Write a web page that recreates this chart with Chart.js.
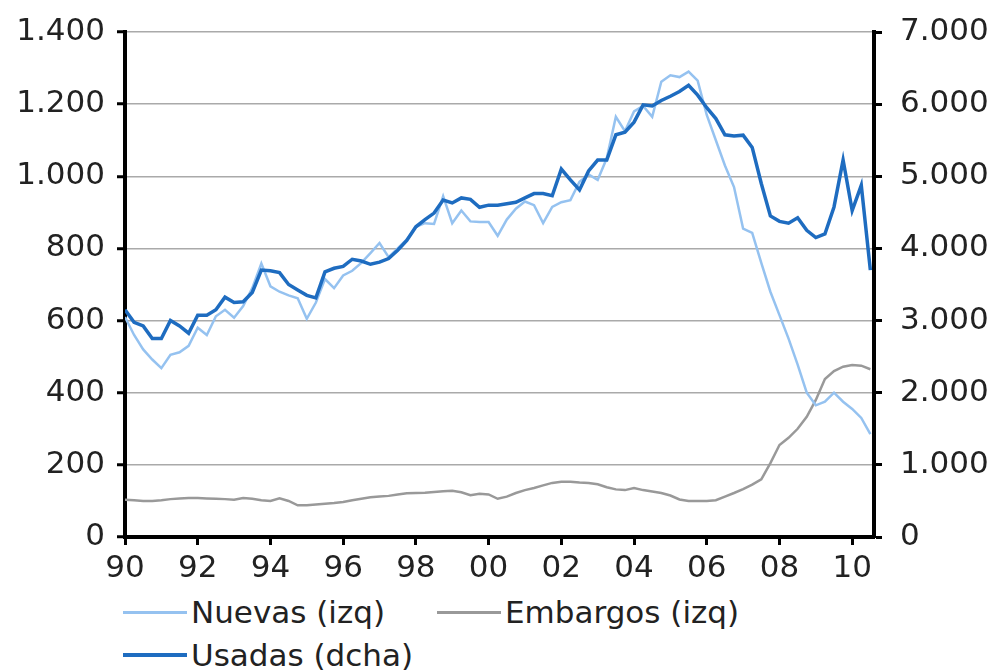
<!DOCTYPE html>
<html>
<head>
<meta charset="utf-8">
<script src="https://cdn.jsdelivr.net/npm/chart.js@4.4.1/dist/chart.umd.min.js"></script>
<style>
  body { margin: 0; background: #fff; }
  #wrap { position: relative; width: 996px; height: 671px; }
  #legend { position: absolute; left: 0; top: 0; font-family: "DejaVu Sans", sans-serif; font-size: 31px; color: #222; }
  .item { position: absolute; display: flex; align-items: center; white-space: nowrap; }
  .swatch { display: inline-block; width: 64px; margin-right: 4px; }
</style>
</head>
<body>
<div id="wrap">
  <canvas id="chart" width="996" height="592"></canvas>
  <div id="legend"></div>
</div>
<script>
// quarterly data, 1990 Q1 .. 2010 Q3
const START_YEAR = 1990;
const STEP = 0.25;

const xTicks = [1990, 1992, 1994, 1996, 1998, 2000, 2002, 2004, 2006, 2008, 2010];

// Nuevas (left axis)
const nuevas = [
  610, 560, 520, 492, 468, 505, 512, 530, 580, 560, 612, 630, 608, 640, 690, 758,
  695, 680, 670, 662, 605, 650, 715, 690, 725, 738, 760, 787, 815, 776, 800, 825,
  860, 870, 868, 945, 870, 905, 875, 873, 873, 835, 880, 910, 930, 920, 870, 915,
  928, 934, 985, 1005, 990, 1050, 1165, 1125, 1180, 1195, 1165, 1262, 1280, 1275, 1290, 1265,
  1170, 1100, 1030, 970, 855, 843, 760, 680, 615, 550, 478, 400, 365, 375, 400, 375,
  355, 330, 285
];

// Embargos (left axis)
const embargos = [
  103, 102, 100, 100, 102, 105, 107, 108, 108, 107, 106, 105, 103, 108, 106, 102,
  100, 107, 100, 88, 88, 90, 92, 94, 97, 102, 106, 110, 112, 114, 118, 121,
  122, 123, 125, 127, 128, 124, 116, 120, 118, 106, 112, 122, 130, 136, 143, 150,
  153, 153, 151, 150, 146, 138, 132, 130, 136, 130, 126, 122, 115, 104, 100, 100,
  100, 102, 112, 122, 133, 145, 160, 205, 255, 275, 300, 333, 380, 438, 460, 472,
  477, 475, 465
];

// Usadas (right axis)
const usadas = [
  3150, 2975, 2925, 2750, 2750, 3000, 2925, 2825, 3075, 3075, 3150, 3325, 3250, 3260, 3390, 3700,
  3690, 3665, 3500, 3425, 3350, 3315, 3675, 3725, 3750, 3850, 3825, 3780, 3810, 3860, 3975, 4110,
  4300, 4400, 4490, 4670, 4630, 4700, 4680, 4570, 4600, 4600, 4620, 4640, 4700, 4760, 4760, 4730,
  5100, 4950, 4810, 5075, 5225, 5225, 5575, 5610, 5750, 5990, 5975, 6050, 6110, 6175, 6260, 6125,
  5950, 5800, 5575, 5560, 5570, 5400, 4900, 4450, 4375, 4350, 4425, 4250, 4150, 4200, 4575, 5225,
  4525, 4875, 3700
];

function toPoints(values) {
  return values.map((v, i) => ({ x: START_YEAR + i * STEP, y: v }));
}

function thousands(v) {
  return String(v).replace(/\B(?=(\d{3})+(?!\d))/g, ".");
}

// fixed axis sizes so the plot area sits where the original one does
function fixWidth(w) {
  return scale => {
    scale.width = w;
    scale.paddingTop = 0;
    scale.paddingBottom = 0;
  };
}

const FONT = { family: "DejaVu Sans", size: 31 };

const series = [
  { label: "Nuevas (izq)", data: nuevas, color: "#95c2f0", width: 2.5, axis: "y", order: 1 },
  { label: "Embargos (izq)", data: embargos, color: "#999999", width: 2.5, axis: "y", order: 2 },
  { label: "Usadas (dcha)", data: usadas, color: "#1e6cc0", width: 3.5, axis: "y1", order: 0 }
];

const chart = new Chart(document.getElementById("chart"), {
  type: "line",
  data: {
    datasets: series.map(s => ({
      label: s.label,
      data: toPoints(s.data),
      borderColor: s.color,
      borderWidth: s.width,
      pointRadius: 0,
      tension: 0,
      yAxisID: s.axis,
      order: s.order
    }))
  },
  options: {
    responsive: false,
    animation: false,
    layout: { padding: { top: 32, right: 0, bottom: 0, left: 0 } },
    plugins: {
      legend: { display: false },
      tooltip: { enabled: false }
    },
    scales: {
      x: {
        type: "linear",
        min: 1990,
        max: 2010.6,
        afterFit: scale => { scale.height = 55; },
        afterBuildTicks: scale => { scale.ticks = xTicks.map(v => ({ value: v })); },
        border: { color: "#000", width: 4 },
        grid: { drawOnChartArea: false, tickLength: 8, tickColor: "#000", tickWidth: 3 },
        ticks: {
          color: "#222",
          font: FONT,
          padding: 5,
          maxRotation: 0,
          autoSkip: false,
          callback: v => String(v % 100).padStart(2, "0")
        }
      },
      y: {
        position: "left",
        min: 0,
        max: 1400,
        afterFit: fixWidth(125),
        border: { color: "#000", width: 4 },
        grid: {
          color: "#aaaaaa",
          lineWidth: 1.5,
          borderDash: [10, 6],
          tickLength: 8,
          tickColor: "#000",
          tickWidth: 3,
          tickBorderDash: []
        },
        ticks: { stepSize: 200, color: "#222", font: FONT, padding: 12, callback: v => thousands(v) }
      },
      y1: {
        position: "right",
        min: 0,
        max: 7000,
        afterFit: fixWidth(122),
        border: { color: "#000", width: 4 },
        grid: { drawOnChartArea: false, tickLength: 8, tickColor: "#000", tickWidth: 3 },
        ticks: { stepSize: 1000, color: "#222", font: FONT, padding: 18, callback: v => thousands(v) }
      }
    }
  }
});

// legend below the chart, built from the datasets
const legendPos = [
  { left: 123, top: 612 },
  { left: 437, top: 612 },
  { left: 123, top: 655 }
];
const legend = document.getElementById("legend");
series.forEach((s, i) => {
  const item = document.createElement("div");
  item.className = "item";
  item.style.left = legendPos[i].left + "px";
  item.style.top = (legendPos[i].top - 20) + "px";
  item.style.height = "40px";
  const sw = document.createElement("span");
  sw.className = "swatch";
  sw.style.height = s.width + 0.5 + "px";
  sw.style.background = s.color;
  const txt = document.createElement("span");
  txt.textContent = s.label;
  item.appendChild(sw);
  item.appendChild(txt);
  legend.appendChild(item);
});
</script>
</body>
</html>
